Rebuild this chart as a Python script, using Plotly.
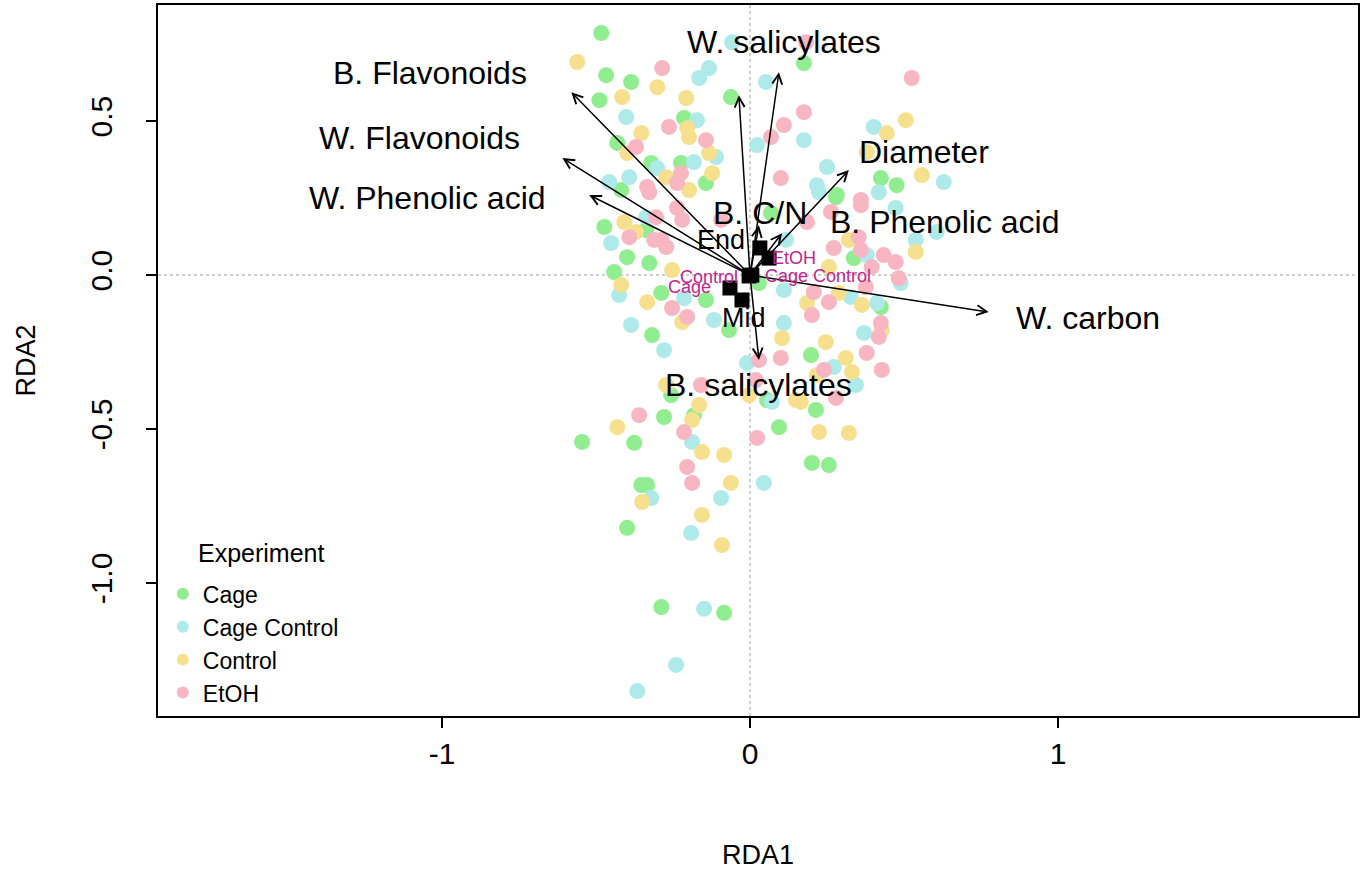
import plotly.graph_objects as go

# ---------------- data ----------------
cage_x = [-0.483, -0.467, -0.386, -0.062, 0.175, -0.489, -0.214, -0.431, -0.321, -0.224,
          -0.418, -0.143, -0.473, -0.337, -0.399, -0.327, -0.441, -0.288, -0.143, -0.318,
          -0.068, 0.068, 0.029, 0.279, 0.337, 0.425, 0.198, 0.425, 0.476, 0.282,
          -0.256, 0.055, -0.279, -0.182, 0.094, -0.376, -0.353, -0.334, -0.399, 0.214,
          0.201, 0.256, -0.288, -0.084, -0.545]
cage_y = [0.786, 0.649, 0.627, 0.578, 0.688, 0.568, 0.510, 0.429, 0.364, 0.364,
          0.276, 0.299, 0.156, 0.146, 0.058, 0.039, 0.010, -0.058, -0.081, -0.195,
          -0.179, 0.201, -0.026, 0.253, 0.055, -0.104, -0.260, 0.315, 0.292, 0.260,
          -0.390, -0.406, -0.461, -0.455, -0.494, -0.545, -0.682, -0.682, -0.821, -0.438,
          -0.610, -0.617, -1.078, -1.097, -0.542]

cagectl_x = [-0.058, -0.133, -0.165, 0.052, -0.402, -0.172, -0.110, -0.182, -0.301, -0.392,
             -0.457, 0.023, -0.337, -0.451, -0.425, -0.214, -0.386, -0.117, -0.279, 0.110,
             -0.010, 0.117, 0.110, 0.224, 0.473, 0.538, 0.606, 0.379, 0.489, 0.327,
             0.412, 0.370, 0.272, 0.175, 0.402, 0.250, 0.629, 0.217, 0.418, 0.071,
             0.344, -0.188, 0.045, -0.321, -0.094, -0.191, -0.149, -0.240, -0.366]
cagectl_y = [0.756, 0.672, 0.640, 0.627, 0.513, 0.503, 0.383, 0.367, 0.347, 0.318,
             0.302, 0.422, 0.188, 0.104, -0.065, -0.075, -0.162, -0.146, -0.244, -0.156,
             -0.286, 0.114, -0.049, 0.269, 0.218, 0.114, 0.140, 0.065, -0.026, -0.071,
             -0.091, -0.188, -0.299, 0.438, 0.481, 0.351, 0.302, 0.292, 0.269, -0.412,
             -0.357, -0.542, -0.675, -0.724, -0.724, -0.838, -1.084, -1.266, -1.351]

control_x = [-0.561, -0.301, -0.415, -0.207, -0.204, -0.353, -0.198, -0.399, -0.133, -0.272,
             -0.123, -0.198, -0.408, -0.370, -0.253, -0.418, -0.334, -0.220, 0.104, 0.506,
             0.444, 0.379, 0.558, 0.538, 0.321, 0.256, 0.288, 0.363, 0.185, 0.246,
             0.311, 0.331, 0.428, 0.217, -0.272, -0.003, 0.149, -0.165, -0.188, -0.431,
             -0.156, -0.084, -0.062, -0.350, -0.156, -0.091, 0.224, 0.321, 0.165]
control_y = [0.692, 0.610, 0.578, 0.575, 0.477, 0.461, 0.448, 0.396, 0.396, 0.318,
             0.331, 0.276, 0.172, 0.140, 0.016, -0.032, -0.088, -0.153, -0.205, 0.503,
             0.461, 0.399, 0.325, 0.075, 0.114, 0.026, -0.058, -0.097, -0.091, -0.218,
             -0.269, -0.315, -0.179, -0.325, -0.357, -0.390, -0.406, -0.422, -0.471, -0.494,
             -0.575, -0.584, -0.675, -0.737, -0.779, -0.877, -0.510, -0.513, -0.412]

etoh_x = [0.182, 0.525, -0.285, 0.110, 0.175, -0.263, -0.143, -0.370, 0.068, -0.224,
          -0.334, -0.237, 0.100, 0.360, -0.327, -0.392, -0.305, -0.311, -0.272, -0.288,
          -0.220, -0.237, -0.094, -0.253, -0.204, 0.100, 0.029, 0.360, 0.263, 0.185,
          0.272, 0.353, 0.360, 0.434, 0.473, 0.395, 0.483, 0.376, 0.207, 0.256,
          0.201, 0.425, 0.418, 0.379, 0.240, 0.428, -0.159, 0.019, -0.360, -0.214,
          0.023, -0.204, -0.188, 0.279]
etoh_y = [0.756, 0.640, 0.672, 0.487, 0.529, 0.481, 0.438, 0.416, 0.448, 0.331,
          0.286, 0.299, 0.315, 0.244, 0.269, 0.123, 0.188, 0.114, 0.091, 0.114,
          0.179, 0.218, 0.179, -0.107, -0.136, -0.269, -0.276, 0.227, 0.205, 0.172,
          0.088, 0.123, 0.081, 0.065, 0.042, 0.026, -0.010, -0.039, -0.055, -0.088,
          -0.130, -0.156, -0.201, -0.253, -0.308, -0.308, -0.357, -0.341, -0.455, -0.510,
          -0.529, -0.623, -0.675, -0.399]

groups = ["Cage", "Cage Control", "Control", "EtOH"]
group_colors = ["#90EE90", "#AEEAEA", "#F6E08E", "#F8B6C3"]

# biplot arrows (tips)
arrow_x = [-0.580, -0.609, -0.522, -0.036, 0.094, 0.321, 0.029, 0.104, 0.775, 0.029]
arrow_y = [0.594, 0.380, 0.260, 0.584, 0.659, 0.341, 0.162, 0.136, -0.120, -0.276]

# arrow labels
var_labels = ["B. Flavonoids", "W. Flavonoids", "W. Phenolic acid", "W. salicylates",
              "Diameter", "B. C/N", "B. Phenolic acid", "W. carbon", "B. salicylates"]
var_lab_x = [-1.040, -1.073, -1.047, 0.110, 0.564, 0.032, 0.632, 1.096, 0.029]
var_lab_y = [0.656, 0.445, 0.250, 0.756, 0.399, 0.201, 0.172, -0.140, -0.357]

# centroids
cent_x = [0.032, 0.062, -0.003, 0.006, -0.065, -0.026]
cent_y = [0.088, 0.055, -0.003, 0.000, -0.042, -0.081]

time_labels = ["End", "Mid"]
time_lab_x = [-0.094, -0.019]
time_lab_y = [0.114, -0.140]

exp_labels = ["EtOH", "Control", "Cage Control", "Cage"]
exp_lab_x = [0.143, -0.133, 0.220, -0.198]
exp_lab_y = [0.055, -0.006, -0.003, -0.039]

x_ticks = [-1, 0, 1]
y_ticks = [-1.0, -0.5, 0.0, 0.5]
y_tick_text = ["-1.0", "-0.5", "0.0", "0.5"]

FONT = "Liberation Sans, Arial, sans-serif"

fig = go.Figure()

for name, col, xs, ys in zip(groups, group_colors,
                             [cage_x, cagectl_x, control_x, etoh_x],
                             [cage_y, cagectl_y, control_y, etoh_y]):
    fig.add_trace(go.Scatter(x=xs, y=ys, mode="markers", name=name,
                             marker=dict(color=col, size=16, line=dict(width=0))))

# centroid squares
fig.add_trace(go.Scatter(x=cent_x, y=cent_y, mode="markers", showlegend=False,
                         marker=dict(symbol="square", color="black", size=15,
                                     line=dict(width=0))))

# zero lines (dotted)
fig.add_shape(type="line", xref="x", yref="paper", x0=0, x1=0, y0=0, y1=1,
              line=dict(color="#D0D0D0", width=2, dash="dot"), layer="below")
fig.add_shape(type="line", xref="paper", yref="y", x0=0, x1=1, y0=0, y1=0,
              line=dict(color="#D0D0D0", width=2, dash="dot"), layer="below")

# arrows
for ax_, ay_ in zip(arrow_x, arrow_y):
    fig.add_annotation(x=ax_, y=ay_, ax=0, ay=0, xref="x", yref="y",
                       axref="x", ayref="y", text="", showarrow=True,
                       arrowhead=5, arrowsize=1.3, arrowwidth=1.5,
                       arrowcolor="black", standoff=0, startstandoff=0)

for t, x, y in zip(var_labels, var_lab_x, var_lab_y):
    fig.add_annotation(x=x, y=y, text=t, showarrow=False,
                       font=dict(family=FONT, size=32, color="black"))

for t, x, y in zip(time_labels, time_lab_x, time_lab_y):
    fig.add_annotation(x=x, y=y, text=t, showarrow=False,
                       font=dict(family=FONT, size=27, color="black"))

for t, x, y in zip(exp_labels, exp_lab_x, exp_lab_y):
    fig.add_annotation(x=x, y=y, text=t, showarrow=False,
                       font=dict(family=FONT, size=18, color="#C0268F"))

# axis titles
fig.add_annotation(xref="paper", yref="paper", x=0.5, y=0, yshift=-139,
                   xanchor="center", yanchor="middle",
                   text="RDA1", showarrow=False,
                   font=dict(family=FONT, size=27, color="black"))
fig.add_annotation(xref="paper", yref="paper", x=0, y=0.5, xshift=-133,
                   xanchor="center", yanchor="middle",
                   text="RDA2", textangle=-90, showarrow=False,
                   font=dict(family=FONT, size=27, color="black"))

# legend title
fig.add_annotation(xref="paper", yref="paper", x=0.032, y=0.229, xanchor="left",
                   yanchor="middle",
                   text="Experiment", showarrow=False,
                   font=dict(family=FONT, size=25, color="black"))

fig.update_layout(
    width=1363, height=870,
    margin=dict(l=158, r=3, t=5, b=154),
    paper_bgcolor="white", plot_bgcolor="white",
    font=dict(family=FONT, color="black"),
    legend=dict(x=0.004, y=0.202, xanchor="left", yanchor="top",
                font=dict(family=FONT, size=23), itemsizing="constant",
                bgcolor="rgba(0,0,0,0)", tracegroupgap=0),
    xaxis=dict(range=[-1.922, 1.974], tickvals=x_ticks, ticktext=["-1", "0", "1"],
               showgrid=False, zeroline=False, showline=True, linecolor="black",
               linewidth=2, mirror=True, ticks="outside", ticklen=10, tickwidth=2,
               tickcolor="black", tickfont=dict(family=FONT, size=30)),
    yaxis=dict(range=[-1.432, 0.877], tickvals=y_ticks, ticktext=y_tick_text,
               tickangle=-90, showgrid=False, zeroline=False, showline=True,
               linecolor="black", linewidth=2, mirror=True, ticks="outside",
               ticklen=10, tickwidth=2, tickcolor="black", ticklabelstandoff=22,
               tickfont=dict(family=FONT, size=30)),
)

fig.write_html("out.html", config={"displayModeBar": False},
               post_script="document.body.style.margin='0px';")
